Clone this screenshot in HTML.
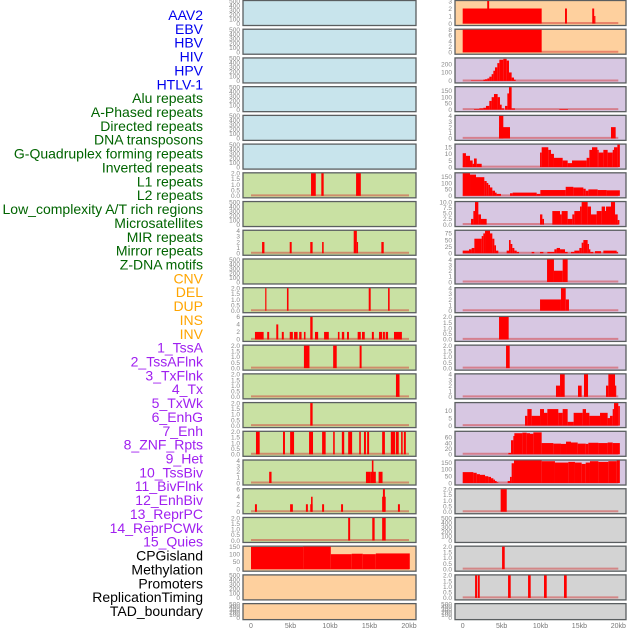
<!DOCTYPE html>
<html><head><meta charset="utf-8"><style>
html,body{margin:0;padding:0;background:#fff;}
svg{display:block;font-family:"Liberation Sans",sans-serif;}
</style></head><body>
<svg id="chart" width="630" height="630" viewBox="0 0 630 630" xmlns="http://www.w3.org/2000/svg"></svg>
<script>
// ---- track labels ----
const trackLabels = ["AAV2","EBV","HBV","HIV","HPV","HTLV-1","Alu repeats","A-Phased repeats","Directed repeats","DNA transposons","G-Quadruplex forming repeats","Inverted repeats","L1 repeats","L2 repeats","Low_complexity A/T rich regions","Microsatellites","MIR repeats","Mirror repeats","Z-DNA motifs","CNV","DEL","DUP","INS","INV","1_TssA","2_TssAFlnk","3_TxFlnk","4_Tx","5_TxWk","6_EnhG","7_Enh","8_ZNF_Rpts","9_Het","10_TssBiv","11_BivFlnk","12_EnhBiv","13_ReprPC","14_ReprPCWk","15_Quies","CPGisland","Methylation","Promoters","ReplicationTiming","TAD_boundary"];
const labelGroups = [6,13,5,15,5];
const groupColors = ["#0000ee","#006400","#ffa500","#a020f0","#000000"];
// ---- x axis ----
const xTicks = [0,5,10,15,20];
const xTickLabels = ["0","5kb","10kb","15kb","20kb"];
// ---- panel y-axis ranges / ticks ----
const E = ["0","100","200","300","400","500"];
const T2 = ["0.0","0.5","1.0","1.5","2.0"];
const leftYMax = [500,500,500,500,500,500,2,500,4,500,2,6,2,2,2,2,4,6,2,150,500,500];
const leftTicks = [E,E,E,E,E,E,T2,E,["0","1","2","3","4"],E,T2,["0","2","4","6"],T2,T2,T2,T2,["0","1","2","3","4"],["0","2","4","6"],T2,["0","50","100","150"],E,E];
const leftBg = ["b","b","b","b","b","b","g","g","g","g","g","g","g","g","g","g","g","g","g","o","o","o"];
const rightYMax = [3,8,265,180,4,17,175,10,85,4,4,2,2,4,15,80,165,2,500,2,2,500];
const rightTicks = [["0","1","2","3"],["0","2","4","6","8"],["0","100","200"],["0","50","100","150"],["0","1","2","3","4"],["0","5","10","15"],["0","50","100","150"],["0.0","2.5","5.0","7.5","10.0"],["0","25","50","75"],["0","1","2","3","4"],["0","1","2","3","4"],T2,T2,["0","1","2","3","4"],["0","5","10"],["0","20","40","60"],["0","50","100","150"],T2,E,T2,T2,E];
const rightBg = ["o","o","p","p","p","p","p","p","p","p","p","p","p","p","p","p","p","k","k","k","k","k"];
// ---- bar data: [startKb, endKb, value] ----
const leftBars = [[],[],[],[],[],[],
 [[7.6,8.2,2],[8.9,9.2,2],[13.3,13.9,2]],
 [],
 [[1.4,1.7,2],[4.9,5.15,2],[7.5,7.8,2],[9.0,9.2,2],[13.0,13.4,4],[13.4,13.5,2],[16.5,16.8,2]],
 [],
 [[1.8,1.95,2],[4.55,4.75,2],[14.9,15.15,2],[17.35,17.55,2]],
 [[0.5,1.6,2],[2.05,2.3,2],[3.2,3.45,4],[3.9,4.15,2],[4.9,5.3,2],[5.45,5.9,2],[6.1,6.4,2],[6.7,6.9,2],[7.5,7.8,6],[8.1,8.5,2],[9.25,9.85,2],[11.0,11.2,2],[11.5,11.8,2],[12.15,12.4,2],[13.5,13.9,2],[14.05,14.4,2],[15.3,15.55,2],[16.2,16.6,2],[16.7,16.95,2],[17.05,17.35,2],[18.1,19.1,2]],
 [[6.7,7.4,2],[10.4,10.85,2],[13.75,14.0,2]],
 [[18.35,18.8,2]],
 [[7.5,7.8,2]],
 [[0.63,1.1,2],[4.05,4.3,2],[4.95,5.45,2],[7.35,7.85,2],[9.0,9.45,2],[10.4,10.6,2],[11.5,11.8,2],[12.3,12.8,2],[13.7,13.9,2],[14.3,14.55,2],[14.7,14.95,2],[16.6,16.95,2],[17.7,18.25,2],[18.35,18.7,2],[19.0,19.2,2],[19.35,19.6,2]],
 [[2.3,2.6,2],[14.55,15.15,2],[15.15,15.8,2],[15.3,15.5,4],[16.15,16.65,2]],
 [[0.5,0.75,2],[4.95,5.3,2],[6.95,7.2,2],[7.5,7.8,2],[7.6,7.8,4],[9.0,9.25,2],[11.4,11.65,2],[16.6,17.05,4],[16.7,16.95,6],[18.6,18.85,2]],
 [[12.3,12.55,2],[15.35,15.65,2],[16.6,17.05,2]],
 [[0,6.6,148],[6.6,10.1,150],[10.1,12.75,100],[12.75,14.15,103],[14.15,15.8,100],[15.8,20.1,105]],
 [],[]];
const rightBars = [
 [[0,10.15,2],[3.15,3.4,3],[13.15,13.4,2],[16.65,16.9,2],[16.9,17.0,1]],
 [[0,10.15,8]],
 [[1.07,2.65,5],[2.65,2.87,15],[2.87,3.17,20],[3.17,3.42,30],[3.42,3.72,50],[3.72,3.94,80],[3.94,4.15,120],[4.15,4.45,160],[4.45,4.71,210],[4.71,5.22,250],[5.22,5.65,260],[5.65,5.95,240],[5.95,6.29,100],[6.29,6.59,40],[6.59,6.81,15]],
 [[1.45,2.14,5],[2.14,2.65,10],[2.65,2.99,15],[2.99,3.42,30],[3.42,3.72,70],[3.72,4.02,100],[4.02,4.49,125],[4.49,4.79,100],[4.79,5.01,40],[5.01,5.31,10],[5.44,5.74,30],[5.74,5.95,130],[5.95,6.29,180],[6.29,6.72,10],[12.42,13.53,5]],
 [[4.67,6.08,2],[4.67,5.22,4],[19.06,19.66,2]],
 [[0,0.42,10.5],[0.42,0.94,8.5],[0.94,1.28,5],[1.28,1.45,2.5],[1.45,1.8,6.5],[1.8,2.44,2.5],[9.94,10.15,11],[10.15,11.0,15],[11.0,11.35,13],[11.35,11.73,10],[11.73,12.85,7],[12.85,13.49,5],[13.49,14.05,3],[14.05,15.93,5],[15.93,16.28,7],[16.28,16.62,13],[16.62,17.31,15],[17.31,17.48,13],[17.48,18.08,11],[18.08,18.63,13],[18.63,19.28,11],[19.28,19.45,13],[19.45,19.88,15],[19.88,20.2,17]],
 [[0,0.94,175],[0.94,1.71,165],[1.71,2.78,145],[2.78,3.08,115],[3.08,3.29,100],[3.29,3.51,85],[3.51,3.81,65],[3.81,4.15,40],[4.15,4.36,25],[4.36,4.92,15],[6.08,6.42,20],[6.42,9.51,25],[9.51,9.98,15],[9.98,13.24,45],[13.24,14.22,70],[14.22,15.51,65],[15.51,15.81,55],[15.81,16.15,40],[16.15,17.35,50],[17.35,18.5,45],[18.5,20.2,43]],
 [[1.07,1.37,2.5],[1.37,1.58,6],[1.58,2.01,10],[2.01,2.35,4.5],[2.35,3.08,2.5],[9.94,10.24,4.5],[10.24,10.45,2.5],[11.52,12.51,6],[12.51,12.72,4.5],[12.72,13.49,6],[13.49,14.09,2.5],[14.09,14.35,4.5],[14.35,15.08,6],[15.08,15.29,8],[15.29,16.06,10],[16.06,16.49,8],[16.49,17.22,4.5],[17.22,17.86,6],[17.86,18.29,8],[18.29,18.42,6],[18.42,19.06,8],[19.06,19.58,10],[19.58,19.92,4.5],[19.92,20.14,2]],
 [[0,0.81,10],[0.81,1.15,15],[1.15,1.5,20],[1.5,2.44,55],[2.44,2.65,65],[2.65,2.87,75],[2.87,3.51,85],[3.51,3.81,75],[3.81,4.07,55],[4.07,4.28,30],[4.28,4.58,10],[5.65,5.95,10],[5.95,6.16,50],[6.16,6.38,35],[6.38,6.64,20],[6.64,6.94,10],[6.94,7.24,5],[8.86,9.2,5],[9.94,10.37,5],[10.88,11.78,5],[11.78,12.08,15],[12.08,12.51,20],[12.51,13.15,15],[13.15,13.49,5],[13.92,14.35,5],[14.35,14.99,10],[14.99,15.29,20],[15.29,15.51,40],[15.51,16.06,50],[16.06,16.23,35],[16.23,16.41,15],[16.41,16.79,5],[17.0,17.78,8],[18.08,19.79,10],[19.79,19.92,5]],
 [[10.84,11.73,4],[11.73,12.85,2],[12.85,13.49,4]],
 [[9.94,12.63,2],[12.63,13.24,4],[13.24,13.66,2]],
 [[4.67,5.91,2]],
 [[5.57,6.04,2]],
 [[11.99,12.51,2],[12.51,13.11,4],[14.82,15.29,2],[15.59,16.11,4],[18.42,18.72,2],[18.72,19.58,4],[19.58,19.7,2]],
 [[8.01,8.31,6.5],[8.31,8.86,11],[8.86,9.94,6.5],[9.94,10.45,11],[10.45,10.88,8.5],[10.88,12.29,11],[12.29,12.85,8.5],[12.85,13.49,11],[13.49,14.26,2.5],[14.26,15.42,8.5],[15.42,15.85,11],[15.85,16.28,8.5],[16.28,17.65,6.5],[17.65,18.63,8.5],[18.63,18.93,5],[18.93,19.28,6.5],[19.28,19.45,11],[19.45,20.0,15],[20.0,20.2,13]],
 [[5.87,6.21,5],[6.21,6.51,50],[6.51,6.64,65],[6.64,7.67,75],[7.67,8.22,77],[8.22,8.65,75],[8.65,9.08,73],[9.08,10.15,78],[10.15,11.65,40],[11.65,12.63,38],[12.63,13.28,37],[13.28,13.92,45],[13.92,14.78,42],[14.78,15.81,38],[15.81,16.15,37],[16.15,17.44,41],[17.44,18.63,40],[18.63,19.28,42],[19.28,20.2,40]],
 [[0,1.37,80],[1.37,1.8,75],[1.8,2.22,65],[2.22,2.87,60],[2.87,3.29,50],[3.29,3.64,45],[3.64,3.94,35],[3.94,4.15,25],[4.15,4.36,15],[4.36,4.58,5],[5.78,6.08,15],[6.08,6.29,45],[6.29,6.59,145],[6.59,10.15,165],[10.15,11.86,160],[11.86,13.58,150],[13.58,14.43,155],[14.43,15.29,150],[15.29,15.81,140],[15.81,16.36,150],[16.36,17.44,160],[17.44,18.72,155],[18.72,19.79,160],[19.79,20.2,165]],
 [[4.88,5.66,2]],
 [],
 [[5.06,5.4,2]],
 [[1.59,1.84,2],[1.93,2.19,2],[5.83,6.17,2],[8.4,8.74,2],[10.45,10.8,2],[13.02,13.37,2]],
 []];

const NS = "http://www.w3.org/2000/svg";
const svg = document.getElementById("chart");
const bgColors = {b:"#c8e4ec",g:"#c9e1a3",o:"#fed09e",p:"#d7c7e2",k:"#d3d3d3"};
const cols = [
 {name:"left", x0:243, x1:416, kb0:251, kbScale:7.9, ymax:leftYMax, ticks:leftTicks, bg:leftBg, bars:leftBars},
 {name:"right", x0:455, x1:626, kb0:462.7, kbScale:7.78, ymax:rightYMax, ticks:rightTicks, bg:rightBg, bars:rightBars}
];
function mk(tag, attrs){const e=document.createElementNS(NS,tag);for(const k in attrs)e.setAttribute(k,attrs[k]);return e;}
function rowTop(r){return r*28.72;}
function rowH(r){return r===21?16:25;}
function yScale(r,v,ymax){const y0=rowTop(r)+rowH(r)-1.5, yt=rowTop(r)+1;return y0-(v/ymax)*(y0-yt);}

// labels
let gi=0, cnt=0;
trackLabels.forEach((t,i)=>{
  if(cnt>=labelGroups[gi]){gi++;cnt=0;}
  cnt++;
  const el=mk("text",{x:203,y:20+13.86*i,"text-anchor":"end","font-size":"14",fill:groupColors[gi]});
  el.textContent=t;
  
  
  svg.appendChild(el);
});

cols.forEach(c=>{
  for(let r=0;r<22;r++){
    const g=mk("g",{});
    
    
    const top=rowTop(r), h=rowH(r);
    const rect=mk("rect",{x:c.x0,y:top+0.5,width:c.x1-c.x0,height:h,fill:bgColors[c.bg[r]],stroke:"#5a5e60","stroke-width":"1.3"});
    
    
    g.appendChild(rect);
    const ymax=c.ymax[r], tk=c.ticks[r];
    const step = tk.length>1 ? (parseFloat(tk[tk.length-1])/(tk.length-1)) : 1;
    tk.forEach((lab,i)=>{
      const v=i*step;
      const t=mk("text",{x:c.x0-3,y:yScale(r,v,ymax)+2.3,"text-anchor":"end","font-size":"6.5",fill:"#888"});
      t.textContent=lab;
      
      
      g.appendChild(t);
    });
    const bars=c.bars[r];
    if(bars.length){
      const base=mk("line",{x1:c.kb0,x2:c.kb0+20*c.kbScale,y1:yScale(r,0,ymax)-0.5,y2:yScale(r,0,ymax)-0.5,stroke:"rgba(210,40,40,0.45)","stroke-width":"2"});
      
      
      g.appendChild(base);
      bars.slice().sort((a,b)=>a[2]-b[2]).forEach(b=>{
        const xa=c.kb0+b[0]*c.kbScale, xb=c.kb0+b[1]*c.kbScale;
        const yt=yScale(r,b[2],ymax), yb=yScale(r,0,ymax);
        const br=mk("rect",{x:xa,y:yt,width:Math.max(1.2,xb-xa),height:Math.max(0,yb-yt),fill:"#ff0000"});
        
        
        g.appendChild(br);
      });
    }
    svg.appendChild(g);
  }
  xTicks.forEach((v,i)=>{
    const t=mk("text",{x:c.kb0+v*c.kbScale,y:628,"text-anchor":"middle","font-size":"7",fill:"#777"});
    t.textContent=xTickLabels[i];
    
    
    svg.appendChild(t);
  });
});
</script>
</body></html>
